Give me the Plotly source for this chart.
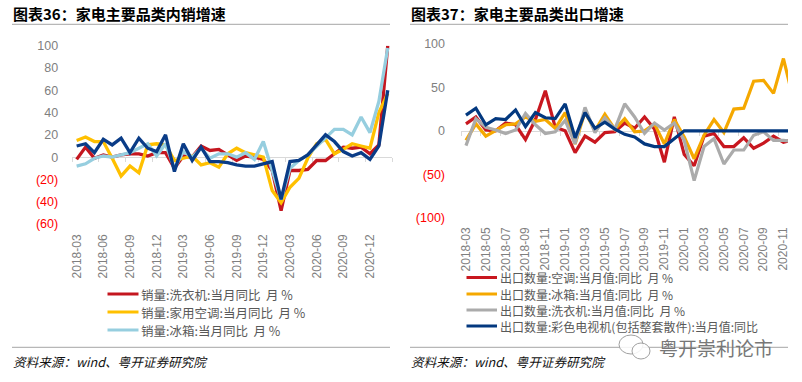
import plotly.graph_objects as go

W, H = 802, 382

# ---------- data ----------
months_left = ["2018-03","2018-04","2018-05","2018-06","2018-07","2018-08","2018-09","2018-10","2018-11","2018-12",
               "2019-01","2019-02","2019-03","2019-04","2019-05","2019-06","2019-07","2019-08","2019-09","2019-10","2019-11","2019-12",
               "2020-01","2020-02","2020-03","2020-04","2020-05","2020-06","2020-07","2020-08","2020-09","2020-10","2020-11","2020-12",
               "2021-01","2021-02"]
washer_dom = [-2,9,-1,2,0,2,3,3,1,4,4,-10,1,0,10,6,7,2,-3,1,0,-2,-12,-48,-12,-12,-11,-3,-3,3,9,8,9,3,11,100]
ac_dom = [15,18,14,14,-1,-17,-8,-14,11,12,11,-3,-1,1,-7,-5,-9,3,8,4,2,0,-30,-41,-27,-19,-1,12,16,3,7,12,10,8,40,57]
fridge_dom = [-8,-6,-1,1,0,2,4,8,12,1,12,-10,5,0,8,-1,3,3,0,4,-2,14,-13,-38,-10,-3,2,10,18,25,25,20,36,22,50,98]
tv_dom = [10,12,4,16,11,17,4,17,8,5,20,-13,12,-3,9,-4,-4,-5,-7,-8,-8,-6,-4,-38,-4,-3,2,11,20,14,5,1,4,-2,10,60]

months_right = months_left[:34]
ac_exp = [8,16,1,0,9,7,-10,13,46,4,0,-25,-6,-13,-2,-1,9,3,16,2,-36,16,-27,-40,-6,-3,-18,-18,-8,-20,-14,-6,-13,-10]
fridge_exp = [-11,8,-6,1,7,8,16,11,13,3,21,-15,22,0,19,2,14,-1,0,8,-15,13,-7,-32,-5,13,-2,25,26,57,58,43,83,36]
washer_exp = [-17,14,4,1,-3,1,20,7,-3,-1,12,-15,27,-2,15,2,31,16,-3,9,1,9,-11,-57,-18,-9,-38,-22,-22,-5,-1,-11,-11,-12]
tv_exp = [18,26,7,14,13,24,5,21,15,14,31,-8,21,3,10,2,-4,-7,-15,-18,-18,-9,0,0,0,0,0,0,0,0,0,0,0,0]

left_names = ["销量:洗衣机:当月同比  月 %","销量:家用空调:当月同比  月 %","销量:冰箱:当月同比  月 %"]
left_hidden_name = "销量:彩色电视机:当月同比  月 %"
right_names = ["出口数量:空调:当月值:同比  月 %","出口数量:冰箱:当月值:同比  月 %","出口数量:洗衣机:当月值:同比  月 %",
               "出口数量:彩色电视机(包括整套散件):当月值:同比"]
left_colors = ["#C4161F","#FFC000","#96CEDF","#0A3C87"]
right_colors = ["#C8171F","#F5A800","#ABABAB","#03387F"]

yticks_left = [100,80,60,40,20,0,-20,-40,-60]
yticks_right = [100,50,0,-50,-100]
title_left = "图表36：家电主要品类内销增速"
title_right = "图表37：家电主要品类出口增速"
source = "资料来源：wind、粤开证券研究院"
watermark = "粤开崇利论市"

# ---------- helpers ----------
px = lambda x: x / W
py = lambda y: 1 - y / H
CJK = "Noto Sans CJK SC"
AX = "Liberation Sans, Arial"

def ticktext(vals):
    return [str(v) if v >= 0 else f'<span style="color:#FF0000">({-v})</span>' for v in vals]

fig = go.Figure()

# xa: the axis that crosses at zero (line and tick marks, under the traces)
# xb: the overlaying axis at the bottom of the panel that carries the date labels
def panel(xa, xb, ya, months, series, names, colors, x0, x1, ytop, ybot, ymax, ymin, rng, dtick, yticks, standoff_y, standoff_x, width):
    for i, (vals, name, col) in enumerate(zip(series, names, colors)):
        on_top = i == len(series) - 1
        fig.add_trace(go.Scatter(x=months, y=vals, name=name, mode="lines", showlegend=False,
                                 line=dict(color=col, width=width, shape="linear"),
                                 xaxis=xb if on_top else xa, yaxis=ya))
    zero_y = ytop + (ymax) / (ymax - ymin) * (ybot - ytop)
    suffix = {"x": "xaxis", "x2": "xaxis2", "x3": "xaxis3", "x4": "xaxis4", "y": "yaxis", "y2": "yaxis2"}
    dom = [px(x0), px(x1)]
    fig.layout[suffix[xb]] = dict(type="category", categoryorder="array", categoryarray=months, range=rng, domain=dom,
                                  overlaying=xa, anchor=ya, side="bottom", showgrid=False, zeroline=False, showline=False,
                                  ticks="", automargin=False, tickmode="linear", tick0=0, dtick=dtick, tickangle=-90,
                                  tickfont=dict(family=AX, size=12, color="#7F7F7F"), ticklabelstandoff=standoff_x)
    fig.layout[suffix[xa]] = dict(type="category", categoryorder="array", categoryarray=months, range=rng, domain=dom,
                                  anchor="free", position=py(zero_y), side="bottom", automargin=False,
                                  showgrid=False, zeroline=False, showline=True, linecolor="#D9D9D9", linewidth=1,
                                  ticks="outside", ticklen=4, tickcolor="#D9D9D9", tickwidth=1, tickson="boundaries",
                                  tickmode="linear", tick0=0, dtick=dtick, showticklabels=False, layer="below traces")
    fig.layout[suffix[ya]] = dict(domain=[py(ybot), py(ytop)], range=[ymin, ymax], anchor=xa, showgrid=False, automargin=False,
                                  zeroline=False, showline=False, ticks="", tickmode="array", tickvals=yticks,
                                  ticktext=ticktext(yticks), ticklabelstandoff=standoff_y,
                                  tickfont=dict(family=AX, size=12.5, color="#7F7F7F"))

panel("x", "x2", "y", months_left, [washer_dom, ac_dom, fridge_dom, tv_dom],
      left_names + [left_hidden_name], left_colors,
      72.2, 392.2, 45.7, 224, 100, -60, [-0.5, 35.5], 3, yticks_left, 13, 7, 3.3)
panel("x3", "x4", "y2", months_right, [ac_exp, fridge_exp, washer_exp, tv_exp],
      right_names, right_colors,
      461, 788, 43.7, 218, 100, -100, [-0.5, 32.46], 2, yticks_right, 15, 6, 3.2)

ann, shp = [], []

def text(x, y, s, size, color, bold=False, italic=False, anchor="left"):
    t = f"<b>{s}</b>" if bold else s
    if italic:
        t = f"<i>{t}</i>"
    ann.append(dict(x=px(x), y=py(y), xref="paper", yref="paper", text=t, showarrow=False, xanchor=anchor,
                    yanchor="middle", align="left", borderpad=0, font=dict(family=CJK, size=size, color=color)))

def hline(x0, x1, y, color, width):
    shp.append(dict(type="line", xref="paper", yref="paper", x0=px(x0), x1=px(x1), y0=py(y), y1=py(y),
                    line=dict(color=color, width=width)))

for x, x_end, t in [(12, 390, title_left), (410, 788, title_right)]:
    text(x, 14, t, 15, "#000000", bold=True)
    hline(x, x_end, 24.3, "#A6A6A6", 1)
    hline(x, x_end, 347.3, "#A6A6A6", 1)
    text(x, 361, source, 12.6, "#111111", italic=True)

for name, col, y in zip(left_names, left_colors, [294, 312, 330]):
    hline(107.5, 138.5, y, col, 3)
    text(140, y, name, 12.5, "#595959")
for name, col, y in zip(right_names, right_colors, [277.5, 294, 310, 326]):
    hline(466.5, 497, y, col, 3)
    text(499, y, name, 12, "#595959")

text(658, 347, watermark, 19, "#777777")
for (x0, y0, x1, y1) in [(619, 335, 643, 354), (632, 343, 650, 359)]:
    shp.append(dict(type="circle", xref="paper", yref="paper", x0=px(x0), x1=px(x1), y0=py(y0), y1=py(y1),
                    fillcolor="rgba(255,255,255,0.85)", line=dict(color="#A0A0A0", width=1)))

shp.append(dict(type="rect", xref="paper", yref="paper", x0=px(788), x1=1, y0=py(220), y1=py(276),
                fillcolor="#FFFFFF", line=dict(width=0), layer="above"))

fig.update_layout(template="none", width=W, height=H, margin=dict(l=0, r=0, t=0, b=0, pad=0), autosize=False,
                  paper_bgcolor="#FFFFFF", plot_bgcolor="#FFFFFF", showlegend=False,
                  annotations=ann, shapes=shp)

fig.write_html("out.html", config={"displayModeBar": False},
               post_script="document.body.style.margin='0';document.body.style.overflow='hidden';")
